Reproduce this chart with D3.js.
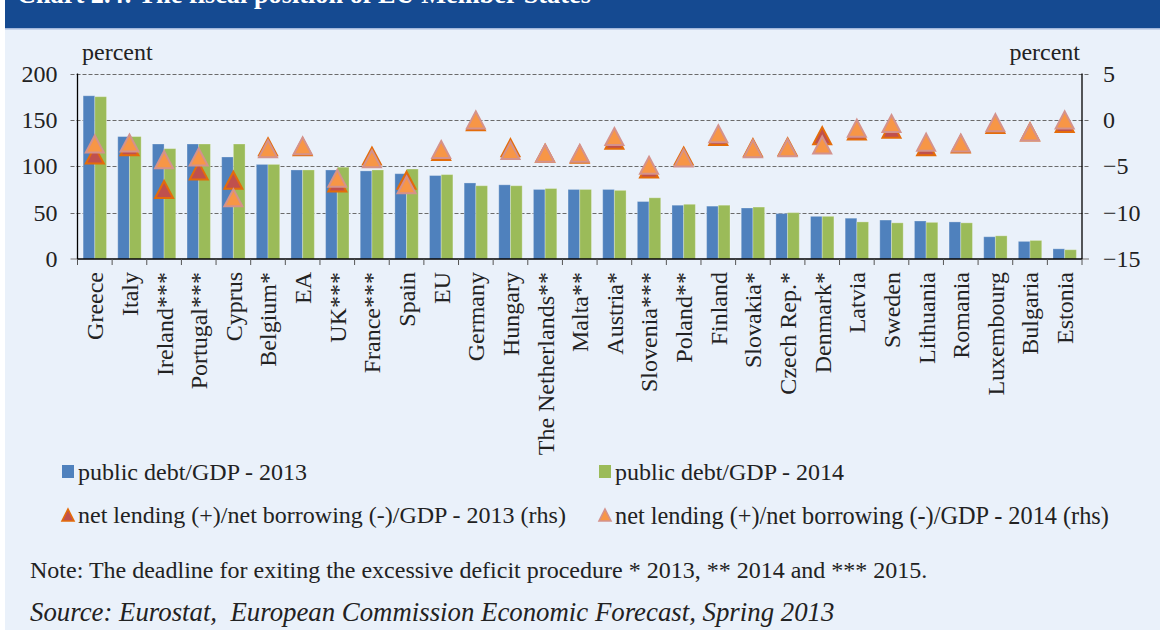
<!DOCTYPE html>
<html>
<head>
<meta charset="utf-8">
<script src="https://cdn.jsdelivr.net/npm/d3@7"></script>
<style>
  html, body { margin: 0; padding: 0; background: #ffffff; }
  svg { display: block; }
  text { font-family: "Liberation Serif", "Times New Roman", serif; fill: #222; }
</style>
</head>
<body>
<svg id="chart" width="1164" height="630"></svg>
<script>
// Member states, ordered by 2013 public debt
const categories = ["Greece", "Italy", "Ireland***", "Portugal***", "Cyprus", "Belgium*", "EA", "UK***",
  "France***", "Spain", "EU", "Germany", "Hungary", "The Netherlands**", "Malta**", "Austria*",
  "Slovenia***", "Poland**", "Finland", "Slovakia*", "Czech Rep.*", "Denmark*", "Latvia", "Sweden",
  "Lithuania", "Romania", "Luxembourg", "Bulgaria", "Estonia"];

// public debt, % of GDP (left axis)
const debt2013 = [176, 132, 124, 124, 110, 102, 96, 96, 95, 92, 90, 82, 80, 75, 75, 75,
  62, 58, 57, 55, 49, 46, 44, 42, 41, 40, 24, 19, 11];
const debt2014 = [175, 132, 119, 124, 124, 102, 96, 99, 96, 97, 91, 79, 79, 76, 75, 74,
  66, 59, 58, 56, 50, 46, 40, 39, 39.5, 39, 25, 20, 10];

// net lending (+) / net borrowing (-), % of GDP (right axis)
const netLending2013 = [-3.8, -2.9, -7.5, -5.5, -6.5, -2.9, -2.9, -6.8, -3.9, -6.5, -3.4, -0.2, -3.0, -3.6, -3.7, -2.2,
  -5.3, -3.9, -1.8, -3.0, -2.9, -1.7, -1.2, -1.0, -2.9, -2.6, -0.5, -1.3, -0.4];
const netLending2014 = [-2.6, -2.5, -4.3, -4.0, -8.4, -3.1, -2.8, -6.3, -4.2, -7.0, -3.2, 0.0, -3.3, -3.6, -3.6, -1.8,
  -4.9, -4.1, -1.5, -3.1, -3.0, -2.7, -0.9, -0.4, -2.4, -2.5, -0.3, -1.3, 0.0];

const leftTicks = [0, 50, 100, 150, 200];
const rightTicks = [-15, -10, -5, 0, 5];

const legendItems = [
  { label: "public debt/GDP - 2013", kind: "bar", key: "d13" },
  { label: "public debt/GDP - 2014", kind: "bar", key: "d14" },
  { label: "net lending (+)/net borrowing (-)/GDP - 2013 (rhs)", kind: "tri", key: "n13" },
  { label: "net lending (+)/net borrowing (-)/GDP - 2014 (rhs)", kind: "tri", key: "n14" }
];

const titleText = "Chart 2.4: The fiscal position of EU Member States";
const noteText = "Note: The deadline for exiting the excessive deficit procedure * 2013, ** 2014 and *** 2015.";
const sourceText = "Source: Eurostat,  European Commission Economic Forecast, Spring 2013";

// ---- styles ----
const colors = {
  d13: "#4F81BD", d14: "#9BBB59",
  n13: { fill: "#C0504D", stroke: "#E46C0A" },
  n14: { fill: "#F79646", stroke: "#D4928C" },
  bg: "#EAF1FA", band: "#154A91"
};

const W = 1164, H = 630;
const plot = { left: 77.5, right: 1082, top: 73.5, bottom: 259 };

const svg = d3.select("#chart");

// page background and header band
svg.append("rect").attr("x", 5).attr("y", 0).attr("width", W - 9).attr("height", H).attr("fill", colors.bg);
svg.append("rect").attr("x", 5).attr("y", 0).attr("width", W - 9).attr("height", 28).attr("fill", colors.band);
svg.append("rect").attr("x", 5).attr("y", 28).attr("width", W - 9).attr("height", 1.5).attr("fill", "#A3B8DC");
svg.append("text").attr("x", 17).attr("y", 3)
  .style("font-size", "26.3px").style("font-weight", "bold").style("fill", "#ffffff")
  .text(titleText);

// scales
const x = d3.scaleBand().domain(categories).range([plot.left, plot.right]).padding(0);
const sub = d3.scaleBand().domain(["d13", "d14"]).range([0, x.bandwidth()]).paddingInner(0).paddingOuter(0.48);
const yL = d3.scaleLinear().domain([0, 200]).range([plot.bottom, plot.top]);
const yR = d3.scaleLinear().domain([-15, 5]).range([plot.bottom, plot.top]);

// dashed gridlines (also form the outer tick marks)
svg.append("g").selectAll("line").data(leftTicks.filter(d => d > 0)).join("line")
  .attr("x1", plot.left - 7).attr("x2", plot.right + 7)
  .attr("y1", d => Math.round(yL(d)) + 0.5).attr("y2", d => Math.round(yL(d)) + 0.5)
  .attr("stroke", "#6b6b6b").attr("stroke-width", 1).attr("stroke-dasharray", "4,2");
// zero-level tick stubs
[[plot.left - 7, plot.left], [plot.right, plot.right + 7]].forEach(([a, b]) => {
  svg.append("line").attr("x1", a).attr("x2", b)
    .attr("y1", plot.bottom).attr("y2", plot.bottom).attr("stroke", "#8a8a8a").attr("stroke-width", 1.2);
});

// bars
const rows = categories.map((c, i) => ({ c, d13: debt2013[i], d14: debt2014[i], n13: netLending2013[i], n14: netLending2014[i] }));
const groups = svg.append("g").selectAll("g").data(rows).join("g")
  .attr("transform", d => `translate(${x(d.c)},0)`);
groups.selectAll("rect").data(d => ["d13", "d14"].map(k => ({ k, v: d[k] }))).join("rect")
  .attr("x", d => sub(d.k)).attr("width", sub.bandwidth())
  .attr("y", d => yL(d.v)).attr("height", d => yL(0) - yL(d.v))
  .attr("fill", d => colors[d.k])
  .attr("stroke", "rgba(255,255,255,0.28)").attr("stroke-width", 1);

// axes lines
svg.append("line").attr("x1", plot.left).attr("x2", plot.left).attr("y1", plot.top).attr("y2", plot.bottom)
  .attr("stroke", "#000").attr("stroke-width", 1.3);
svg.append("line").attr("x1", plot.right).attr("x2", plot.right).attr("y1", plot.top).attr("y2", plot.bottom)
  .attr("stroke", "#000").attr("stroke-width", 1.3);
svg.append("line").attr("x1", plot.left).attr("x2", plot.right).attr("y1", plot.bottom).attr("y2", plot.bottom)
  .attr("stroke", "#000").attr("stroke-width", 1.3);

// category boundary ticks
svg.append("g").selectAll("line").data(d3.range(categories.length + 1)).join("line")
  .attr("x1", i => plot.left + i * x.step()).attr("x2", i => plot.left + i * x.step())
  .attr("y1", plot.bottom).attr("y2", plot.bottom + 6)
  .attr("stroke", "#555").attr("stroke-width", 1);

// triangle markers (bounding-box centred on the value)
function tri(w, h) {
  const p = d3.path();
  p.moveTo(0, -h / 2); p.lineTo(w / 2, h / 2); p.lineTo(-w / 2, h / 2); p.closePath();
  return p.toString();
}
const triPath = tri(18, 17);
["n13", "n14"].forEach(k => {
  svg.append("g").selectAll("path").data(rows).join("path")
    .attr("d", triPath)
    .attr("transform", d => `translate(${x(d.c) + x.bandwidth() / 2},${yR(d[k])})`)
    .attr("fill", colors[k].fill).attr("stroke", colors[k].stroke)
    .attr("stroke-width", 2).attr("stroke-linejoin", "miter");
});

// tick labels
const leftAxis = svg.append("g").attr("transform", `translate(${plot.left},0)`)
  .call(d3.axisLeft(yL).tickValues(leftTicks).tickSize(0).tickPadding(20).tickFormat(d3.format("d")));
const rightAxis = svg.append("g").attr("transform", `translate(${plot.right},0)`)
  .call(d3.axisRight(yR).tickValues(rightTicks).tickSize(0).tickPadding(21).tickFormat(d3.format("d")));
[leftAxis, rightAxis].forEach(a => {
  a.select(".domain").remove();
  a.selectAll("text").style("font-size", "24px").style("font-family", '"Liberation Serif", serif').attr("fill", "#222");
});

// unit labels
svg.append("text").attr("x", 82).attr("y", 60).style("font-size", "24px").text("percent");
svg.append("text").attr("x", 1080).attr("y", 60).attr("text-anchor", "end").style("font-size", "24px").text("percent");

// rotated category labels
svg.append("g").selectAll("text").data(categories).join("text")
  .attr("transform", d => `translate(${x(d) + x.bandwidth() / 2},${plot.bottom + 13}) rotate(-90)`)
  .attr("text-anchor", "end").attr("dy", "0.35em")
  .style("font-size", "24px")
  .text(d => d);

// legend
const legendPos = [[62, 472], [599, 472], [62, 515], [599, 515]];
legendItems.forEach((it, i) => {
  const [lx, ly] = legendPos[i];
  if (it.kind === "bar") {
    svg.append("rect").attr("x", lx).attr("y", ly - 7).attr("width", 12).attr("height", 13).attr("fill", colors[it.key]);
  } else {
    svg.append("path").attr("d", tri(12, 12)).attr("transform", `translate(${lx + 6},${ly})`)
      .attr("fill", colors[it.key].fill).attr("stroke", colors[it.key].stroke).attr("stroke-width", 1.6);
  }
  svg.append("text").attr("x", lx + 16).attr("y", ly).attr("dy", "0.35em")
    .style("font-size", i === 3 ? "24.3px" : "24px").text(it.label);
});

// note and source
svg.append("text").attr("x", 30).attr("y", 570).attr("dy", "0.35em").style("font-size", "24px").text(noteText);
svg.append("text").attr("x", 30).attr("y", 612).attr("dy", "0.35em").style("font-size", "26.8px")
  .style("font-style", "italic").style("white-space", "pre").text(sourceText);
</script>
</body>
</html>
